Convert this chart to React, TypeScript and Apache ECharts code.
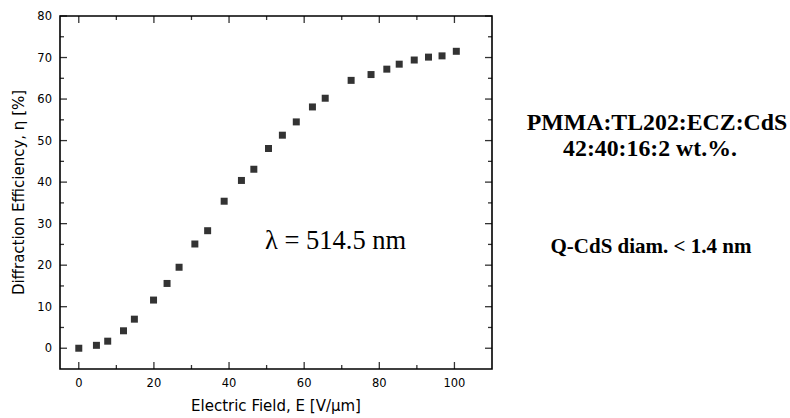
import React, { useEffect, useRef } from "react";
import * as echarts from "echarts";

const fieldValues = [0, 4.7, 7.7, 11.9, 14.8, 19.9, 23.5, 26.7, 30.9, 34.3, 38.7, 43.3, 46.6, 50.5, 54.2, 57.9, 62.2, 65.6, 72.5, 77.8, 82.0, 85.3, 89.3, 93.1, 96.7, 100.5];
const efficiencyValues = [0, 0.7, 1.7, 4.2, 7.0, 11.6, 15.6, 19.5, 25.1, 28.3, 35.4, 40.4, 43.1, 48.1, 51.3, 54.5, 58.1, 60.2, 64.5, 65.9, 67.2, 68.4, 69.4, 70.1, 70.4, 71.5];

const xMajorTicks = [0, 20, 40, 60, 80, 100];
const xMinorTicks = [10, 30, 50, 70, 90];
const yMajorTicks = [0, 10, 20, 30, 40, 50, 60, 70, 80];
const yMinorTicks = [5, 15, 25, 35, 45, 55, 65, 75];

const xRange = [-5, 110];
const yRange = [-5, 80];

const xTitle = "Electric Field, E [V/\u03bcm]";
const yTitle = "Diffraction Efficiency, \u03b7 [%]";
const wavelengthText = "\u03bb = 514.5 nm";
const compositionText = "PMMA:TL202:ECZ:CdS";
const ratioText = "42:40:16:2 wt.%.";
const diameterText = "Q-CdS diam. < 1.4 nm";

const SANS = "'DejaVu Sans', 'Liberation Sans', Arial, sans-serif";
const SERIF = "'Liberation Serif', 'Times New Roman', serif";

const WIDTH = 790;
const HEIGHT = 418;
const GRID = { left: 60, right: 298, top: 16, bottom: 49 };
const MAJOR_LEN = 7;
const MINOR_LEN = 4;
const TICK_W = 1.3;

function textGraphic(text: string, x: number, y: number, size: number, bold: boolean, align: string): any {
  return {
    type: "text",
    x,
    y,
    silent: true,
    style: {
      text,
      fontFamily: SERIF,
      fontWeight: bold ? "bold" : "normal",
      fontSize: size,
      fill: "#000",
      align,
      verticalAlign: "middle",
    },
  };
}

// Inward tick marks on all four sides, drawn as thin rect symbols at axis values
function tickSeries(points: number[][], size: number[], offset: number[]): any {
  return {
    type: "scatter",
    silent: true,
    clip: false,
    symbol: "rect",
    symbolSize: size,
    symbolOffset: offset,
    itemStyle: { color: "#000" },
    emphasis: { disabled: true },
    z: 5,
    data: points,
  };
}

function buildTickSeries(): any[] {
  const out: any[] = [];
  const xSide = (vals: number[], len: number) => {
    out.push(tickSeries(vals.map((v) => [v, yRange[0]]), [TICK_W, len], [0, -len / 2]));
    out.push(tickSeries(vals.map((v) => [v, yRange[1]]), [TICK_W, len], [0, len / 2]));
  };
  const ySide = (vals: number[], len: number) => {
    out.push(tickSeries(vals.map((v) => [xRange[0], v]), [len, TICK_W], [len / 2, 0]));
    out.push(tickSeries(vals.map((v) => [xRange[1], v]), [len, TICK_W], [-len / 2, 0]));
  };
  xSide(xMajorTicks, MAJOR_LEN);
  xSide(xMinorTicks, MINOR_LEN);
  ySide(yMajorTicks, MAJOR_LEN);
  ySide(yMinorTicks, MINOR_LEN);
  return out;
}

export default function App() {
  const ref = useRef<HTMLDivElement>(null);

  useEffect(() => {
    if (!ref.current) return;
    const chart = echarts.init(ref.current, null, { renderer: "svg" });
    const data = fieldValues.map((x, i) => [x, efficiencyValues[i]]);

    chart.setOption({
      animation: false,
      backgroundColor: "#fff",
      grid: {
        left: GRID.left,
        right: GRID.right,
        top: GRID.top,
        bottom: GRID.bottom,
        containLabel: false,
        show: true,
        borderColor: "#000",
        borderWidth: 1.6,
        backgroundColor: "transparent",
      },
      xAxis: {
        type: "value",
        min: xRange[0],
        max: xRange[1],
        name: xTitle,
        nameLocation: "middle",
        nameGap: 29,
        nameTextStyle: { fontFamily: SANS, fontSize: 15, color: "#000" },
        axisLine: { show: false, onZero: false },
        axisTick: { show: false },
        splitLine: { show: false },
        axisLabel: {
          customValues: xMajorTicks,
          margin: 8,
          fontFamily: SANS,
          fontSize: 11.5,
          color: "#000",
        },
      },
      yAxis: {
        type: "value",
        min: yRange[0],
        max: yRange[1],
        name: yTitle,
        nameLocation: "middle",
        nameGap: 34,
        nameTextStyle: { fontFamily: SANS, fontSize: 15, color: "#000" },
        axisLine: { show: false, onZero: false },
        axisTick: { show: false },
        splitLine: { show: false },
        axisLabel: {
          customValues: yMajorTicks,
          margin: 8,
          fontFamily: SANS,
          fontSize: 11.5,
          color: "#000",
        },
      },
      series: [
        {
          type: "scatter",
          symbol: "rect",
          symbolSize: 7,
          itemStyle: { color: "#000" },
          data,
        },
        ...buildTickSeries(),
      ],
      graphic: [
        textGraphic(wavelengthText, 265, 240, 26.5, false, "left"),
        textGraphic(compositionText, 657, 122, 23.8, true, "center"),
        textGraphic(ratioText, 650, 148, 23.8, true, "center"),
        textGraphic(diameterText, 651, 246, 21, true, "center"),
      ],
    });

    return () => {
      chart.dispose();
    };
  }, []);

  return (
    <div
      ref={ref}
      style={{ position: "fixed", left: 0, top: 0, width: WIDTH, height: HEIGHT, background: "#fff" }}
    />
  );
}
